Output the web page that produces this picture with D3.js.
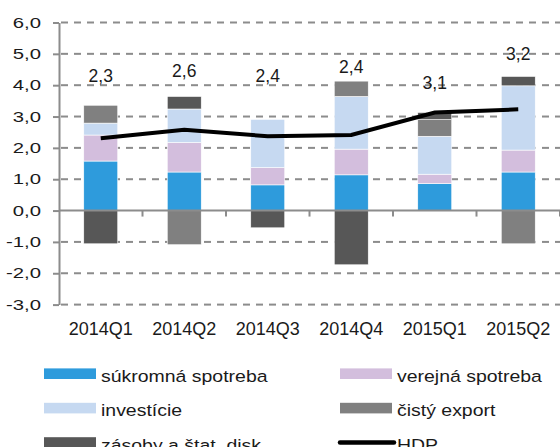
<!DOCTYPE html>
<html>
<head>
<meta charset="utf-8">
<script src="https://d3js.org/d3.v7.min.js"></script>
<style>
  body { margin: 0; background: #fff; }
  svg { display: block; font-family: "Liberation Sans", Arial, sans-serif; }
</style>
</head>
<body>
<svg id="chart" width="560" height="447"></svg>
<script>
// quarters on the x axis
const quarters = ['2014Q1', '2014Q2', '2014Q3', '2014Q4', '2015Q1', '2015Q2'];

// contributions to GDP growth (p.b.)
const sukromna  = [1.58, 1.23, 0.82, 1.14, 0.86, 1.23];
const verejna   = [0.83, 0.94, 0.55, 0.82, 0.30, 0.70];
const investicie = [0.38, 1.07, 1.54, 1.68, 1.21, 2.05];
const cistyExport = [0.57, -1.09, 0.00, 0.49, 0.53, -1.06];
const zasoby    = [-1.06, 0.40, -0.55, -1.73, 0.23, 0.30];
const hdp       = [2.31, 2.58, 2.37, 2.41, 3.13, 3.23];

// level (in axis units) where each HDP value label sits
const labelLevel = [4.11, 4.27, 4.11, 4.38, 3.87, 4.80];

const yTicks = [-3, -2, -1, 0, 1, 2, 3, 4, 5, 6];

const seriesNames = ['súkromná spotreba', 'verejná spotreba', 'investície', 'čistý export', 'zásoby a štat. disk.'];
const seriesColors = ['#2e9bdc', '#d3bedd', '#c6d9f1', '#808080', '#575757'];

/************************************************************/
// table for d3.stack

const rows = quarters.map((q, i) => ({
    q: q,
    0: sukromna[i], 1: verejna[i], 2: investicie[i], 3: cistyExport[i], 4: zasoby[i]
}));

const svg = d3.select('#chart');
const plotL = 59, plotR = 560;
const fmt = v => d3.format('.1f')(v).replace('.', ',').replace('−', '-');

const x = d3.scaleBand().domain(quarters).range([plotL, plotR])
    .paddingInner(0.593).paddingOuter(0.593 / 2);
const y = d3.scaleLinear().domain([-3, 6]).range([304.6, 22.5]);

// dashed grid - dashes drawn as small rects
const dashStarts = d3.range(plotL + 2, plotR, 13);
const gridG = svg.append('g').attr('class', 'grid').attr('fill', '#8c8c8c');
gridG.selectAll('g')
    .data(yTicks.filter(t => t !== 0))
    .join('g')
    .attr('transform', d => `translate(0,${y(d) - 1})`)
    .selectAll('rect')
    .data(dashStarts)
    .join('rect')
    .attr('x', d => d)
    .attr('y', 0)
    .attr('width', d => Math.min(7, plotR - d))
    .attr('height', 2);

// stacked bars
const stack = d3.stack().keys([0, 1, 2, 3, 4]).offset(d3.stackOffsetDiverging);
const layers = stack(rows);

svg.append('g').attr('class', 'bars').selectAll('g')
    .data(layers)
    .join('g')
    .attr('fill', (d, i) => seriesColors[i])
    .selectAll('rect')
    .data(d => d)
    .join('rect')
    .attr('x', d => x(d.data.q))
    .attr('width', x.bandwidth())
    .attr('y', d => y(Math.max(d[0], d[1])))
    .attr('height', d => Math.abs(y(d[0]) - y(d[1])))
    .attr('stroke', '#fff').attr('stroke-width', 0.6);

// zero line + category ticks
svg.append('line')
    .attr('x1', plotL).attr('x2', plotR)
    .attr('y1', y(0)).attr('y2', y(0))
    .attr('stroke', '#8c8c8c').attr('stroke-width', 2);

const halfGap = x.step() * x.paddingInner() / 2;
svg.append('g').selectAll('line')
    .data(quarters)
    .join('line')
    .attr('x1', d => x(d) + x.bandwidth() + halfGap)
    .attr('x2', d => x(d) + x.bandwidth() + halfGap)
    .attr('y1', y(0)).attr('y2', y(0) + 6)
    .attr('stroke', '#8c8c8c').attr('stroke-width', 2);

// y axis
const yAxis = svg.append('g')
    .attr('transform', `translate(${plotL},0)`)
    .call(d3.axisLeft(y).tickValues(yTicks).tickSize(6).tickSizeOuter(0).tickFormat(fmt));
yAxis.select('.domain').attr('stroke', '#8c8c8c').attr('stroke-width', 2);
yAxis.selectAll('.tick line').attr('stroke', '#8c8c8c').attr('stroke-width', 2);
yAxis.selectAll('.tick text')
    .attr('x', null)
    .attr('transform', 'translate(-18,0) scale(1.4,1)')
    .attr('font-size', 14.5).attr('fill', '#1a1a1a')
    .attr('font-family', '"Liberation Sans", Arial, sans-serif');

// x axis labels
const xAxis = svg.append('g')
    .attr('transform', `translate(0,${y(-3)})`)
    .call(d3.axisBottom(x).tickSize(0).tickPadding(18));
xAxis.select('.domain').remove();
xAxis.selectAll('.tick text')
    .attr('font-size', 18).attr('fill', '#1a1a1a')
    .attr('font-family', '"Liberation Sans", Arial, sans-serif');

// HDP line
const hdpLine = d3.line()
    .x((d, i) => x(quarters[i]) + x.bandwidth() / 2)
    .y(d => y(d));
svg.append('path')
    .datum(hdp)
    .attr('d', hdpLine)
    .attr('fill', 'none').attr('stroke', '#000').attr('stroke-width', 4);

// HDP value labels
svg.append('g').selectAll('text')
    .data(hdp)
    .join('text')
    .attr('x', (d, i) => x(quarters[i]) + x.bandwidth() / 2)
    .attr('y', (d, i) => y(labelLevel[i]))
    .attr('text-anchor', 'middle')
    .attr('font-size', 17.5).attr('fill', '#1a1a1a')
    .text(d => fmt(d));

// legend
const legendItems = seriesNames.map((n, i) => ({ name: n, color: seriesColors[i], line: false }))
    .concat([{ name: 'HDP', color: '#000', line: true }]);
const legend = svg.append('g').selectAll('g')
    .data(legendItems)
    .join('g')
    .attr('transform', (d, i) => `translate(${i % 2 ? 340 : 44},${373.7 + Math.floor(i / 2) * 34.4})`);

legend.filter(d => !d.line).append('rect')
    .attr('x', 0).attr('y', -5.3).attr('width', 52).attr('height', 10.6)
    .attr('fill', d => d.color);
legend.filter(d => d.line).append('line')
    .attr('x1', 0).attr('x2', 54).attr('y1', 0).attr('y2', 0)
    .attr('stroke', '#000').attr('stroke-width', 4.5).attr('stroke-linecap', 'round');
legend.append('text')
    .attr('transform', 'translate(57,8.3) scale(1.18,1)')
    .attr('font-size', 16.5).attr('fill', '#1a1a1a')
    .text(d => d.name);
</script>
</body>
</html>
